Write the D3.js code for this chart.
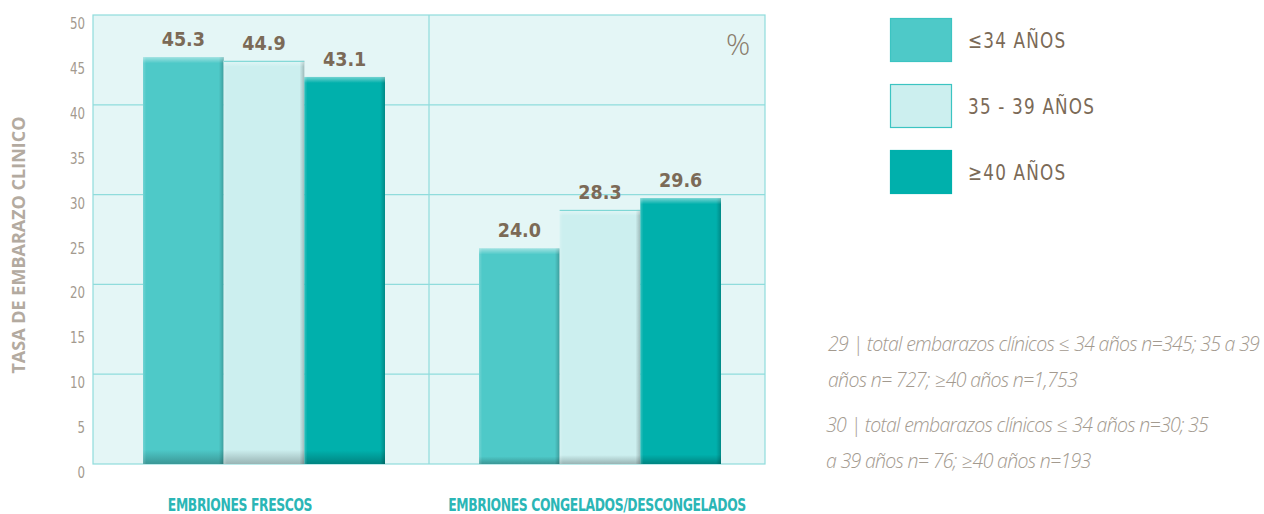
<!DOCTYPE html>
<html><head><meta charset="utf-8">
<script src="https://cdn.jsdelivr.net/npm/d3@7"></script>
<style>body{margin:0;background:#fff;}svg{display:block;}</style>
</head><body>
<svg id="c" width="1264" height="514"></svg>
<script>
const categories = ["EMBRIONES FRESCOS", "EMBRIONES CONGELADOS/DESCONGELADOS"];
const seriesNames = ["\u226434 A\u00d1OS", "35 - 39 A\u00d1OS", "\u226540 A\u00d1OS"];
const series0 = [45.3, 24.0];
const series1 = [44.9, 28.3];
const series2 = [43.1, 29.6];
const yTicks = [0,5,10,15,20,25,30,35,40,45,50];
const gridTicks = [10,20,30,40];
const notes = [
  "29 | total embarazos cl\u00ednicos \u2264 34 a\u00f1os n=345; 35 a 39",
  "a\u00f1os n= 727; \u226540 a\u00f1os n=1,753",
  "30 | total embarazos cl\u00ednicos \u2264 34 a\u00f1os n=30; 35",
  "a 39 a\u00f1os n= 76; \u226540 a\u00f1os n=193"
];
const colors = ["#4ec9c8", "#ccefef", "#00b0ac"];
const allSeries = [series0, series1, series2];
const COND = "'DejaVu Sans Condensed','Liberation Sans Narrow',sans-serif";

const svg = d3.select("#c");
const L = 93, R = 765, T = 15, B = 464;
const y = d3.scaleLinear().domain([0,50]).range([B,T]);
const x0 = d3.scaleBand().domain(categories).range([L,R]).paddingInner(0).paddingOuter(0);
const x1 = d3.scaleBand().domain(d3.range(3)).range([50, x0.bandwidth()-44]);

const defs = svg.append("defs");
colors.forEach((c,i)=>{
  const g = defs.append("linearGradient").attr("id","gv"+i).attr("x1",0).attr("y1",0).attr("x2",0).attr("y2",1);
  const base = d3.color(c);
  g.append("stop").attr("offset","0").attr("stop-color", c);
  g.append("stop").attr("offset","0.965").attr("stop-color", c);
  g.append("stop").attr("offset","1").attr("stop-color", base.darker(0.8));
  const h = defs.append("linearGradient").attr("id","gh"+i).attr("x1",0).attr("y1",0).attr("x2",1).attr("y2",0);
  h.append("stop").attr("offset","0").attr("stop-color","#ffffff").attr("stop-opacity",0.2);
  h.append("stop").attr("offset","0.04").attr("stop-color","#ffffff").attr("stop-opacity",0);
  h.append("stop").attr("offset","0.94").attr("stop-color","#000000").attr("stop-opacity",0);
  h.append("stop").attr("offset","1").attr("stop-color","#000000").attr("stop-opacity",0.22);
});
const tg = defs.append("linearGradient").attr("id","gtop").attr("x1",0).attr("y1",0).attr("x2",0).attr("y2",1);
tg.append("stop").attr("offset","0").attr("stop-color","#ffffff").attr("stop-opacity",0.45);
tg.append("stop").attr("offset","1").attr("stop-color","#ffffff").attr("stop-opacity",0);

// plot background
svg.append("rect").attr("x",L).attr("y",T).attr("width",R-L).attr("height",B-T)
  .attr("fill","#e4f6f6").attr("stroke","#8fdcdc").attr("stroke-width",1.2);
svg.append("g").selectAll("line").data(gridTicks).join("line")
  .attr("x1",L).attr("x2",R).attr("y1",d=>y(d)).attr("y2",d=>y(d))
  .attr("stroke","#8fdcdc").attr("stroke-width",1.2);
svg.append("line").attr("x1",x0(categories[1])).attr("x2",x0(categories[1]))
  .attr("y1",T).attr("y2",B).attr("stroke","#8fdcdc").attr("stroke-width",1.2);

// y tick labels
svg.append("g").selectAll("text").data(yTicks).join("text")
  .attr("transform",d=>`translate(85,${y(d)+14}) scale(0.82,1)`).attr("text-anchor","end")
  .attr("font-family",COND).attr("font-size",16).attr("fill","#a39a8f").text(d=>d);

// y title
svg.append("text").attr("transform","translate(25,245) rotate(-90)")
  .attr("text-anchor","middle").attr("font-family","'Open Sans',sans-serif")
  .attr("font-weight","bold").attr("font-size",18).attr("fill","#b3aaa0")
  .text("TASA DE EMBARAZO CLINICO");

// bars
const g = svg.append("g");
categories.forEach((cat,ci)=>{
  allSeries.forEach((s,si)=>{
    const bx = x0(cat)+x1(si), bw = x1.bandwidth(), by = y(s[ci]);
    g.append("rect").attr("x",bx).attr("y",by).attr("width",bw).attr("height",B-by)
      .attr("fill","url(#gv"+si+")");
    g.append("rect").attr("x",bx).attr("y",by).attr("width",bw).attr("height",B-by)
      .attr("fill","url(#gh"+si+")");
    g.append("rect").attr("x",bx).attr("y",by).attr("width",bw).attr("height",6)
      .attr("fill","url(#gtop)");
    if (si===1) g.append("line").attr("x1",bx).attr("x2",bx+bw).attr("y1",by+0.5).attr("y2",by+0.5)
      .attr("stroke","#6fd2d0").attr("stroke-width",1);
    g.append("text").attr("x",bx+bw/2).attr("y",by-11).attr("text-anchor","middle")
      .attr("font-family",COND)
      .attr("font-weight","bold").attr("font-size",19.5).attr("fill","#7b6a57")
      .text(s[ci].toFixed(1));
  });
  const cx = x0(cat)+x0.bandwidth()/2 - (ci===0?21:0);
  svg.append("text").attr("transform",`translate(${cx},511) scale(0.765,1)`)
    .attr("text-anchor","middle")
    .attr("font-family",COND)
    .attr("font-weight","bold").attr("font-size",18).attr("fill","#2bb6b6")
    .attr("letter-spacing",-0.5)
    .text(cat);
});

// percent
svg.append("text").attr("x",738).attr("y",55).attr("text-anchor","middle")
  .attr("font-family","'Open Sans',sans-serif").attr("font-weight",300)
  .attr("font-size",30).attr("fill","#8a7c6c").text("%");

// legend
const leg = svg.append("g");
seriesNames.forEach((n,i)=>{
  const ly = 18 + i*66;
  leg.append("rect").attr("x",890.5).attr("y",ly+0.5).attr("width",61).attr("height",43)
    .attr("fill",colors[i]).attr("stroke", i===2?"#00b0ac":"#3cc4c2").attr("stroke-width",1.2);
  leg.append("text").attr("transform",`translate(968,${ly+30}) scale(0.85,1)`)
    .attr("font-family",COND)
    .attr("font-size",22).attr("fill","#7b6a57").attr("letter-spacing",1.4).text(n);
});

// notes
const ny = [351, 387, 432, 468];
const nx = [828, 828, 826, 826];
svg.append("g").selectAll("text").data(notes).join("text")
  .attr("x",(d,i)=>nx[i]).attr("y",(d,i)=>ny[i])
  .attr("font-family","'Open Sans',sans-serif").attr("font-style","italic").attr("font-weight",300)
  .attr("font-size",19.5).attr("letter-spacing",-0.7).attr("fill","#a39a8f").text(d=>d);
</script>
</body></html>
